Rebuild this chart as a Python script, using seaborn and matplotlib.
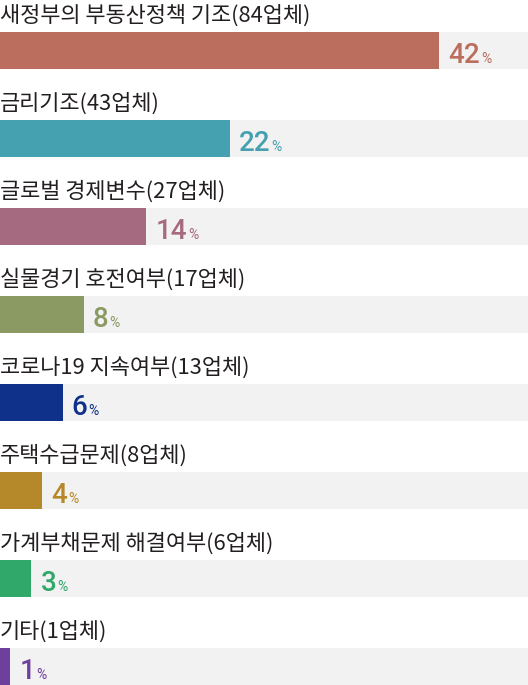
import pandas as pd
import numpy as np
import seaborn as sns
import matplotlib.pyplot as plt

# data
labels = ['새정부의 부동산정책 기조', '금리기조', '글로벌 경제변수', '실물경기 호전여부',
          '코로나19 지속여부', '주택수급문제', '가계부채문제 해결여부', '기타']
companies = [84, 43, 27, 17, 13, 8, 6, 1]
percent = [42, 22, 14, 8, 6, 4, 3, 1]
colors = ['#BC6E5E', '#45A0B0', '#A66A80', '#8A9A62', '#0F318A', '#B5892A', '#30A86A', '#6E3F9C']

df = pd.DataFrame({'label': labels, 'pct': percent, 'full': 50.5})

sns.set_theme(style='white')
plt.rcParams['font.family'] = ['Noto Sans CJK KR', 'DejaVu Sans']

fig = plt.figure(figsize=(5.28, 6.85), dpi=100)
ax = fig.add_axes([0, 0, 1, 1])

bw = 37 / 88
# grey background tracks
sns.barplot(data=df, x='full', y='label', color='#F2F2F2', width=bw, ax=ax, orient='h',
            linewidth=0, edgecolor='none')
# value bars
sns.barplot(data=df, x='pct', y='label', hue='label', palette=colors, legend=False,
            width=bw, ax=ax, orient='h', saturation=1, linewidth=0, edgecolor='none')

ax.set_xlim(0, 50.5)
ax.set_ylim(7 + 18.5 / 88, -50.5 / 88)
ax.axis('off')

fig.canvas.draw()
for i, (lab, n, p, c) in enumerate(zip(labels, companies, percent, colors)):
    ax.text(0, i - 0.40, f'{lab}({n}업체)', fontsize=15.8, color='#231F20',
            va='center', ha='left', family=['Noto Sans CJK KR', 'DejaVu Sans'])
    t = ax.annotate(str(p), xy=(p, i), xytext=(6.5, -9), textcoords='offset points',
                    fontsize=20, fontweight='medium', color=c, va='baseline',
                    ha='left', family='Roboto')
    w = t.get_window_extent(fig.canvas.get_renderer()).width * 72 / fig.dpi
    ax.annotate('%', xy=(p, i), xytext=(6.5 + w + 0.8, -9), textcoords='offset points',
                fontsize=10, color=c, va='baseline', ha='left', family='Roboto')

fig.savefig('out.png', dpi=100)
